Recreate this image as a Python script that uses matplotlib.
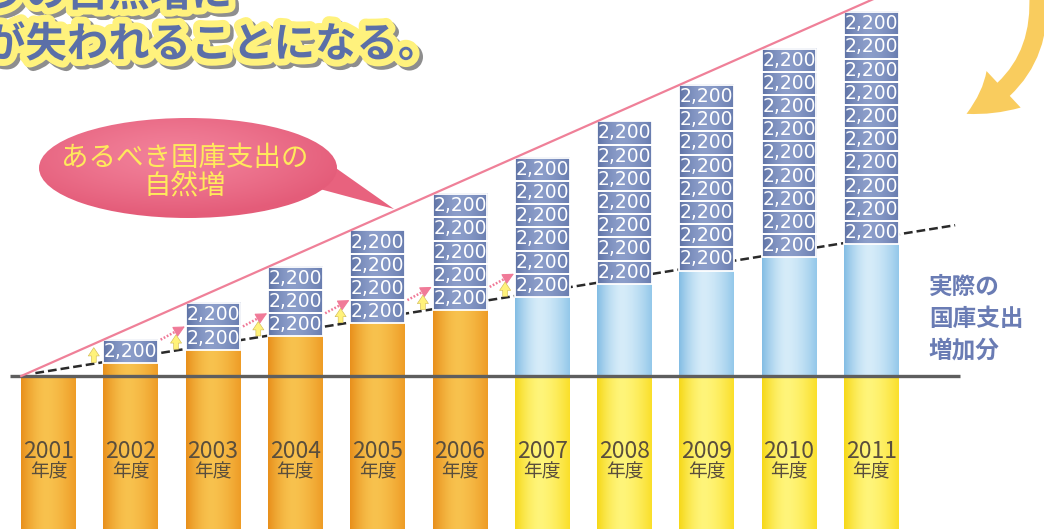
import numpy as np
import matplotlib
matplotlib.use('Agg')
import matplotlib.pyplot as plt
from matplotlib.patches import Rectangle, Ellipse, Polygon, FancyArrowPatch
import matplotlib.patheffects as pe

plt.rcParams['font.family'] = ['Noto Sans CJK JP', 'DejaVu Sans']

# ---------------- data ----------------
years = ['2001', '2002', '2003', '2004', '2005', '2006',
         '2007', '2008', '2009', '2010', '2011']
year_suffix = '年度'
actual_increase = [0, 1250, 2500, 3750, 5000, 6250, 7500, 8750, 10000, 11250, 12500]
cut_counts = [0, 1, 2, 3, 4, 5, 6, 7, 8, 9, 10]
cut_value = 2200
cut_label = '2,200'
trend_vals = [280, 14300]          # dashed "actual" trend line, start / end
blue_from = '2007'
heading_lines = ['うの自然増に', 'が失われることになる。']
bubble_lines = ['あるべき国庫支出の', '自然増']
side_lines = ['実際の', '国庫支出', '増加分']

# ---------------- figure ----------------
W, H = 1044, 529
fig = plt.figure(figsize=(W / 100, H / 100), dpi=100)
ax = fig.add_axes([0, 0, 1, 1])

x = np.arange(len(years))
bw = 0.665
BOTTOM = -20000


def hex2rgb(h):
    h = h.lstrip('#')
    return np.array([int(h[i:i + 2], 16) / 255 for i in (0, 2, 4)])


def grad3(left, mid, right, n=64, peak=0.45):
    t = np.linspace(0, 1, n)
    L, M, R = hex2rgb(left), hex2rgb(mid), hex2rgb(right)
    out = np.zeros((1, n, 3))
    for j, tt in enumerate(t):
        if tt <= peak:
            s = (1 - tt / peak) ** 1.6
            out[0, j] = M * (1 - s) + L * s
        else:
            s = ((tt - peak) / (1 - peak)) ** 1.6
            out[0, j] = M * (1 - s) + R * s
    return out


G_ORANGE = grad3('#E8901C', '#F8C24E', '#EE9C26')
G_YELLOW = grad3('#F6D818', '#FFF57A', '#FADF2A')
G_BLUE = grad3('#84BDE4', '#D6ECF9', '#94C8EA')
G_BOX = grad3('#5E72A5', '#8C9ECA', '#687CAF')


def grad_rect(x0, x1, y0, y1, g, z):
    ax.imshow(g, extent=(x0, x1, y0, y1), aspect='auto',
              interpolation='bilinear', zorder=z)


for i, yr in enumerate(years):
    x0, x1 = x[i] - bw / 2, x[i] + bw / 2
    top = actual_increase[i]
    if yr < blue_from:
        grad_rect(x0, x1, BOTTOM, top, G_ORANGE, 2)
    else:
        grad_rect(x0, x1, BOTTOM, 0, G_YELLOW, 2)
        grad_rect(x0, x1, 0, top, G_BLUE, 2)
    for k in range(cut_counts[i]):
        b0 = top + k * cut_value
        grad_rect(x0, x1, b0, b0 + cut_value, G_BOX, 3)
        ax.add_patch(Rectangle((x0, b0), bw, cut_value, facecolor='none',
                               edgecolor='white', lw=1.3, zorder=3.5))
        ax.text(x[i], b0 + cut_value * 0.5, cut_label, ha='center', va='center',
                fontsize=13.5, color='white', family='DejaVu Sans', zorder=4)
    ax.text(x[i], -7110, yr, ha='center', va='center', fontsize=16.5,
            color='#5A4E3C', zorder=6)
    ax.text(x[i], -9050, year_suffix, ha='center', va='center', fontsize=13.5,
            color='#5A4E3C', zorder=6)

# baseline
ax.plot([-0.47, 11.08], [0, 0], color='#5E5E5E', lw=2.4, zorder=5,
        solid_capstyle='butt')

# dashed actual trend
tx = [-0.16, 11.02]
ax.plot(tx, trend_vals, color='#2A2A2A', lw=1.8, ls=(0, (3.5, 1.6)), zorder=1)


def trend_at(xx):
    return np.interp(xx, tx, trend_vals)


# pink "natural increase" line through top-left corners of the stacks
nat = np.array(actual_increase) + np.array(cut_counts) * cut_value
slope, icpt = np.polyfit(x[1:] - bw / 2, nat[1:], 1)
xa = -icpt / slope
xb = (37000 - icpt) / slope
ax.plot([xa, xb], [0, 37000], color='#EF8098', lw=1.6, zorder=5)

PINK = '#F07A98'
# pink dotted arrows and small yellow arrows between the bars
for i in range(0, 6):
    xm = x[i] + 0.55
    if i == 0:
        y_top = slope * xm + icpt - 350
    else:
        xs, xe = x[i] + bw / 2 + 0.03, x[i + 1] - bw / 2 - 0.01
        ys = actual_increase[i] + cut_value
        ye = actual_increase[i + 1] + cut_value
        ax.plot([xs, xe - 0.06], [ys, ye - 0.06 * (ye - ys) / (xe - xs)],
                color=PINK, lw=1.8, ls=(0, (0.7, 0.7)), zorder=5)
        ax.annotate('', xy=(xe, ye),
                    xytext=(xe - 0.09, ye - 0.09 * (ye - ys) / (xe - xs)),
                    arrowprops=dict(arrowstyle='-|>,head_length=0.7,head_width=0.35',
                                    color=PINK, lw=0.8, mutation_scale=10,
                                    shrinkA=0, shrinkB=0),
                    zorder=5)
        y_top = np.interp(xm, [xs, xe], [ys, ye]) - 330
    y_bot = trend_at(xm) + 120
    ax.annotate('', xy=(xm, y_top), xytext=(xm, y_bot),
                arrowprops=dict(arrowstyle='simple,head_width=0.8,head_length=0.6,tail_width=0.35',
                                mutation_scale=10, fc='#FFF27A', ec='#CDB650',
                                lw=0.4, shrinkA=0, shrinkB=0), zorder=5)

ax.set_xlim(-0.59, 12.10)
ax.set_ylim(-14500, 35650)
ax.axis('off')

# ---------------- overlay (pixel coordinates) ----------------
ax2 = fig.add_axes([0, 0, 1, 1])
ax2.patch.set_alpha(0)

# callout bubble
cx, cy, ew, eh = 188, 168, 298, 100
ell = Ellipse((cx, cy), ew, eh, facecolor='none', edgecolor='none')
ax2.add_patch(ell)
ax2.add_patch(Polygon([(333, 166), (316, 188), (394, 209)], closed=True,
                      facecolor='#E8627E', edgecolor='none', zorder=1))
yy, xx = np.mgrid[-1:1:120j, -1:1:240j]
r = np.clip(np.sqrt(((xx + 0.1) / 1.0) ** 2 + ((yy + 0.25) / 1.0) ** 2), 0, 1.2) / 1.2
c_in, c_out = hex2rgb('#F2819A'), hex2rgb('#E45C79')
img = c_in[None, None, :] * (1 - r[..., None] ** 1.3) + c_out[None, None, :] * (r[..., None] ** 1.3)
im = ax2.imshow(img, extent=(cx - ew / 2, cx + ew / 2, cy + eh / 2, cy - eh / 2),
                aspect='auto', zorder=2, interpolation='bilinear')
im.set_clip_path(ell)
ax2.text(185, 158, bubble_lines[0], ha='center', va='center', fontsize=19.8,
         color='#FFE95C', zorder=3)
ax2.text(185, 187, bubble_lines[1], ha='center', va='center', fontsize=19.8,
         color='#FFE95C', zorder=3)

# heading (cut off at the top-left edge, as in the source)
head_fx = [pe.Stroke(linewidth=10, foreground='#8E8E8E', offset=(2.5, -2.5)),
           pe.Stroke(linewidth=10, foreground='#FFF27D'), pe.Normal()]
ax2.text(-16, -6, heading_lines[0], ha='left', va='center', fontsize=29.8,
         fontweight='bold', color='#5B6FA8', path_effects=head_fx, zorder=4)
ax2.text(-16, 45, heading_lines[1], ha='left', va='center', fontsize=29.8,
         fontweight='bold', color='#5B6FA8', path_effects=head_fx, zorder=4)

# side label
for j, s in enumerate(side_lines):
    ax2.text(929, 287 + 32 * j, s, ha='left', va='center', fontsize=17,
             fontweight='bold', color='#6A7CB4', zorder=4)

# curved arrow at top right
arr = FancyArrowPatch(posA=(1038, -10), posB=(964, 115),
                      connectionstyle='arc3,rad=-0.35',
                      arrowstyle='simple,head_length=1.6,head_width=1.8,tail_width=0.65',
                      mutation_scale=20, facecolor='#F9CC5E', edgecolor='none',
                      zorder=3)
ax2.add_patch(arr)

ax2.set_xlim(0, W)
ax2.set_ylim(H, 0)
ax2.axis('off')

fig.savefig('out.png', dpi=100, facecolor='white')
